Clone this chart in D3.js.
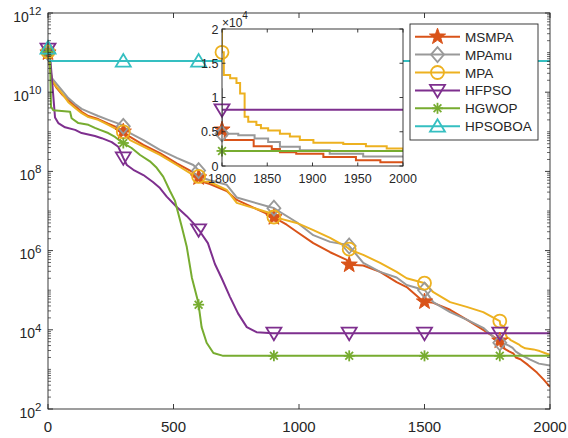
<!DOCTYPE html>
<html><head><meta charset="utf-8">
<script src="https://cdn.jsdelivr.net/npm/d3@7"></script>
<style>
body{margin:0;background:#fff}
svg{display:block}
text{font-family:"Liberation Sans",Arial,Helvetica,sans-serif;fill:#262626}
</style>
</head><body>
<svg id="c" width="568" height="438"></svg>
<script>
// ---------------- data (iteration, best fitness) ----------------
const seriesNames = ["MSMPA","MPAmu","MPA","HFPSO","HGWOP","HPSOBOA"];

const MSMPA = [[0,1.0e11],[15,2.0e10],[35,1.26e10],[55,8.9e9],[81,6.3e9],[108,4.5e9],[134,3.2e9],[161,2.5e9],[200,2.1e9],[240,1.6e9],[280,1.26e9],[327,7.4e8],[380,4.7e8],[446,2.9e8],[513,1.6e8],[579,9.5e7],[618,5.4e7],[645,4.8e7],[712,3.2e7],[752,1.9e7],[884,7.9e6],[951,4.5e6],[991,3.0e6],[1057,1.55e6],[1124,9.1e5],[1190,5.8e5],[1198,4.4e5],[1256,4.2e5],[1323,2.9e5],[1389,1.6e5],[1429,1.2e5],[1495,5.2e4],[1535,4.8e4],[1602,3.2e4],[1668,1.8e4],[1734,1.0e4],[1800,5.3e3],[1803,3.8e3],[1835,2.9e3],[1855,2.5e3],[1864,2.0e3],[1882,1.8e3],[1912,1.3e3],[1948,8.3e2],[1975,5.5e2],[2000,3.6e2]];

const MPAmu = [[0,1.0e11],[15,2.3e10],[35,1.6e10],[55,1.12e10],[81,7.1e9],[108,5.0e9],[134,3.8e9],[161,3.2e9],[200,2.5e9],[240,2.0e9],[294,1.5e9],[327,9.3e8],[380,6.2e8],[446,3.5e8],[513,2.2e8],[579,1.45e8],[598,1.1e8],[618,6.8e7],[645,6.0e7],[712,4.6e7],[752,2.2e7],[884,1.26e7],[898,1.2e7],[991,5.2e6],[1057,2.45e6],[1124,1.66e6],[1197,1.38e6],[1256,4.9e5],[1323,2.9e5],[1389,2.1e5],[1429,1.35e5],[1502,1.0e5],[1535,5.0e4],[1602,2.8e4],[1668,1.8e4],[1734,1.12e4],[1800,4.7e3],[1818,4.5e3],[1836,4.0e3],[1851,3.5e3],[1864,2.8e3],[1886,2.3e3],[1919,1.8e3],[1956,1.4e3],[2000,1.25e3]];

const MPA = [[0,1.05e11],[15,2.0e10],[35,1.35e10],[55,9.5e9],[81,5.6e9],[108,4.0e9],[134,2.95e9],[161,2.35e9],[200,2.0e9],[240,1.5e9],[280,1.1e9],[300,1.0e9],[327,6.2e8],[380,4.2e8],[446,2.6e8],[513,1.45e8],[579,8.1e7],[599,7.6e7],[618,5.6e7],[645,5.4e7],[712,3.4e7],[752,1.6e7],[884,8.9e6],[898,7.1e6],[991,5.0e6],[1057,3.3e6],[1124,2.1e6],[1190,1.23e6],[1203,1.05e6],[1256,7.8e5],[1323,4.9e5],[1389,2.9e5],[1429,2.0e5],[1502,1.5e5],[1535,8.9e4],[1602,5.0e4],[1668,3.8e4],[1734,2.8e4],[1800,1.66e4],[1802,1.33e4],[1809,1.28e4],[1816,1.21e4],[1820,1.06e4],[1825,7.2e3],[1829,6.45e3],[1838,6.0e3],[1843,5.5e3],[1851,5.2e3],[1864,4.7e3],[1875,4.3e3],[1886,3.8e3],[1901,3.4e3],[1934,3.2e3],[1959,2.9e3],[1982,2.55e3],[2000,2.35e3]];

const HFPSO = [[0,1.23e11],[8,8.7e10],[28,2.3e9],[41,1.66e9],[68,1.3e9],[108,1.12e9],[134,9.3e8],[187,7.8e8],[214,6.9e8],[254,5.5e8],[280,4.2e8],[300,2.2e8],[314,1.45e8],[340,1.1e8],[380,8.1e7],[418,5.4e7],[446,3.8e7],[473,2.3e7],[513,1.26e7],[553,7.4e6],[578,5.0e6],[606,3.0e6],[637,1.55e6],[665,4.6e5],[692,2.0e5],[725,6.8e4],[757,2.6e4],[792,1.17e4],[831,8.7e3],[896,8.2e3],[2000,8.2e3]];

const HGWOP = [[0,1.05e11],[8,7.8e10],[12,4.3e9],[21,3.5e9],[88,3.2e9],[94,2.2e9],[121,1.66e9],[161,1.5e9],[187,1.26e9],[207,1.12e9],[240,9.3e8],[267,7.4e8],[294,5.5e8],[333,3.9e8],[367,2.6e8],[406,1.8e8],[433,1.23e8],[459,7.4e7],[486,3.2e7],[506,1.8e7],[533,4.0e6],[553,1.23e6],[573,2.1e5],[599,4.8e4],[612,1.17e4],[632,4.7e3],[659,2.6e3],[698,2.2e3],[2000,2.2e3]];

const HPSOBOA = [[0,1.3e11],[3,6.1e10],[2000,6.1e10]];

const xTicks = [0,500,1000,1500,2000];
const yTickExps = [2,4,6,8,10,12];
const insetXTicks = [1800,1850,1900,1950,2000];
const insetYTicks = [0,5000,10000,15000,20000];
const insetYLabels = ["0","0.5","1","1.5","2"];
const markerIters = [0,300,600,900,1200,1500,1800];

// ---------------- styles ----------------
const seriesData = [MSMPA,MPAmu,MPA,HFPSO,HGWOP,HPSOBOA];
const colors = ["#D95319","#999999","#EDB120","#7E2F8E","#77AC30","#35BFC1"];
const markers = ["star","diamond","circle","triDown","asterisk","triUp"];
const insetStepped = [true,true,true,false,false,false];

const svg = d3.select("#c");
const axisColor = "#262626";
const M = {l:48, r:550, t:13, b:409};

const x = d3.scaleLinear().domain([0,2000]).range([M.l,M.r]);
const y = d3.scaleLog().domain([1e2,1e12]).range([M.b,M.t]);

function valueAt(data, t, step){
  for(let i=0;i<data.length-1;i++){
    if(t>=data[i][0] && t<data[i+1][0]){
      if(step) return data[i][1];
      const f=(t-data[i][0])/(data[i+1][0]-data[i][0]);
      return Math.pow(10, Math.log10(data[i][1]) + f*(Math.log10(data[i+1][1])-Math.log10(data[i][1])));
    }
  }
  return data[data.length-1][1];
}

function drawMarker(g, type, cx, cy, color){
  const sw = 1.8;
  if(type==="star"){
    const pts=[];
    for(let k=0;k<10;k++){
      const r = k%2===0 ? 8.5 : 3.4;
      const a = -Math.PI/2 + k*Math.PI/5;
      pts.push([cx+r*Math.cos(a), cy+r*Math.sin(a)]);
    }
    g.append("polygon").attr("points",pts.map(p=>p.join(",")).join(" "))
      .attr("fill",color).attr("stroke",color).attr("stroke-width",1).attr("stroke-linejoin","round");
  } else if(type==="diamond"){
    g.append("polygon").attr("points",`${cx},${cy-7.5} ${cx+6.5},${cy} ${cx},${cy+7.5} ${cx-6.5},${cy}`)
      .attr("fill","none").attr("stroke",color).attr("stroke-width",sw);
  } else if(type==="circle"){
    g.append("circle").attr("cx",cx).attr("cy",cy).attr("r",6.5)
      .attr("fill","none").attr("stroke",color).attr("stroke-width",sw);
  } else if(type==="triDown"){
    g.append("polygon").attr("points",`${cx-7.5},${cy-5.5} ${cx+7.5},${cy-5.5} ${cx},${cy+7}`)
      .attr("fill","none").attr("stroke",color).attr("stroke-width",sw);
  } else if(type==="triUp"){
    g.append("polygon").attr("points",`${cx-7.5},${cy+5.5} ${cx+7.5},${cy+5.5} ${cx},${cy-7}`)
      .attr("fill","none").attr("stroke",color).attr("stroke-width",sw);
  } else if(type==="asterisk"){
    const r=5.5;
    for(let k=0;k<4;k++){
      const a=k*Math.PI/4;
      g.append("line").attr("x1",cx-r*Math.cos(a)).attr("y1",cy-r*Math.sin(a))
        .attr("x2",cx+r*Math.cos(a)).attr("y2",cy+r*Math.sin(a))
        .attr("stroke",color).attr("stroke-width",sw);
    }
  }
}

// ---------------- main axes ----------------
svg.append("defs").append("clipPath").attr("id","mainClip").append("rect")
  .attr("x",M.l).attr("y",M.t).attr("width",M.r-M.l).attr("height",M.b-M.t);

const gLines = svg.append("g").attr("clip-path","url(#mainClip)");
const gMarks = svg.append("g");

seriesData.forEach((d,i)=>{
  const line = d3.line().x(p=>x(p[0])).y(p=>y(p[1])).curve(d3.curveLinear);
  gLines.append("path").datum(d).attr("d",line)
    .attr("fill","none").attr("stroke",colors[i]).attr("stroke-width",2).attr("stroke-linejoin","round");
  markerIters.forEach(t=>{
    drawMarker(gMarks, markers[i], x(t), y(valueAt(d,t,false)), colors[i]);
  });
});

// box + ticks
const gAx = svg.append("g");
gAx.append("rect").attr("x",M.l).attr("y",M.t).attr("width",M.r-M.l).attr("height",M.b-M.t)
  .attr("fill","none").attr("stroke",axisColor).attr("stroke-width",0.9);

xTicks.forEach(t=>{
  const px=x(t);
  gAx.append("line").attr("x1",px).attr("x2",px).attr("y1",M.b).attr("y2",M.b-5).attr("stroke",axisColor).attr("stroke-width",0.9);
  gAx.append("line").attr("x1",px).attr("x2",px).attr("y1",M.t).attr("y2",M.t+5).attr("stroke",axisColor).attr("stroke-width",0.9);
  gAx.append("text").attr("x",px).attr("y",431.5).attr("text-anchor","middle")
    .attr("font-size",15).text(String(t));
});

// minor log ticks
for(let k=2;k<12;k++){
  for(let m=1;m<10;m++){
    const v=m*Math.pow(10,k);
    if(m===1 && k%2===0) continue;
    const py=y(v);
    gAx.append("line").attr("x1",M.l).attr("x2",M.l+3).attr("y1",py).attr("y2",py).attr("stroke",axisColor).attr("stroke-width",0.7);
    gAx.append("line").attr("x1",M.r).attr("x2",M.r-3).attr("y1",py).attr("y2",py).attr("stroke",axisColor).attr("stroke-width",0.7);
  }
}
yTickExps.forEach(e=>{
  const py=y(Math.pow(10,e));
  gAx.append("line").attr("x1",M.l).attr("x2",M.l+5).attr("y1",py).attr("y2",py).attr("stroke",axisColor).attr("stroke-width",0.9);
  gAx.append("line").attr("x1",M.r).attr("x2",M.r-5).attr("y1",py).attr("y2",py).attr("stroke",axisColor).attr("stroke-width",0.9);
  const t=gAx.append("text").attr("x",41.5).attr("y",py+8.5).attr("text-anchor","end").attr("font-size",14);
  t.append("tspan").text("10");
  t.append("tspan").attr("dy",-6.5).attr("font-size",11.5).text(String(e));
});

// ---------------- inset ----------------
const I = {l:222, r:403, t:29, b:166};
const xi = d3.scaleLinear().domain([1800,2000]).range([I.l,I.r]);
const yi = d3.scaleLinear().domain([0,20000]).range([I.b,I.t]);
const gIn = svg.append("g");
gIn.append("rect").attr("x",I.l).attr("y",I.t).attr("width",I.r-I.l).attr("height",I.b-I.t).attr("fill","#fff");
svg.select("defs").append("clipPath").attr("id","inClip").append("rect")
  .attr("x",I.l).attr("y",I.t).attr("width",I.r-I.l).attr("height",I.b-I.t);
const gInLines = gIn.append("g").attr("clip-path","url(#inClip)");
const gInMarks = gIn.append("g");
seriesData.forEach((d,i)=>{
  const line = d3.line().x(p=>xi(p[0])).y(p=>yi(p[1]))
    .curve(insetStepped[i]?d3.curveStepAfter:d3.curveLinear);
  gInLines.append("path").datum(d.filter((p,j)=>j===d.length-1 || d[j+1][0]>=1790)).attr("d",line)
    .attr("fill","none").attr("stroke",colors[i]).attr("stroke-width",2);
  markerIters.filter(t=>t>=1800).forEach(t=>{
    const v=valueAt(d,t,insetStepped[i]);
    if(v<=20000) drawMarker(gInMarks, markers[i], xi(t), yi(v), colors[i]);
  });
});
gIn.append("rect").attr("x",I.l).attr("y",I.t).attr("width",I.r-I.l).attr("height",I.b-I.t)
  .attr("fill","none").attr("stroke",axisColor).attr("stroke-width",0.9);
insetXTicks.forEach(t=>{
  const px=xi(t);
  gIn.append("line").attr("x1",px).attr("x2",px).attr("y1",I.b).attr("y2",I.b-3.5).attr("stroke",axisColor).attr("stroke-width",0.9);
  gIn.append("line").attr("x1",px).attr("x2",px).attr("y1",I.t).attr("y2",I.t+3.5).attr("stroke",axisColor).attr("stroke-width",0.9);
  gIn.append("text").attr("x",px).attr("y",183).attr("text-anchor","middle").attr("font-size",12.5).text(String(t));
});
insetYTicks.forEach((t,k)=>{
  const py=yi(t);
  gIn.append("line").attr("x1",I.l).attr("x2",I.l+3.5).attr("y1",py).attr("y2",py).attr("stroke",axisColor).attr("stroke-width",0.9);
  gIn.append("line").attr("x1",I.r).attr("x2",I.r-3.5).attr("y1",py).attr("y2",py).attr("stroke",axisColor).attr("stroke-width",0.9);
  gIn.append("text").attr("x",218.5).attr("y",py+4.5).attr("text-anchor","end").attr("font-size",12.5).text(insetYLabels[k]);
});
const ex=gIn.append("text").attr("x",222).attr("y",26.5).attr("font-size",12);
ex.append("tspan").text("×10");
ex.append("tspan").attr("dy",-8).attr("font-size",10).text("4");

// ---------------- legend ----------------
const L = {x:410, y:24, w:128, h:116};
const gL = svg.append("g");
gL.append("rect").attr("x",L.x).attr("y",L.y).attr("width",L.w).attr("height",L.h)
  .attr("fill","#fff").attr("stroke",axisColor).attr("stroke-width",0.9);
seriesNames.forEach((n,i)=>{
  const cy=36.7+i*17.9;
  gL.append("line").attr("x1",415).attr("x2",460).attr("y1",cy).attr("y2",cy).attr("stroke",colors[i]).attr("stroke-width",2);
  drawMarker(gL, markers[i], 437.5, cy, colors[i]);
  gL.append("text").attr("x",465).attr("y",cy+5).attr("font-size",13.5).text(n);
});
</script>
</body></html>
